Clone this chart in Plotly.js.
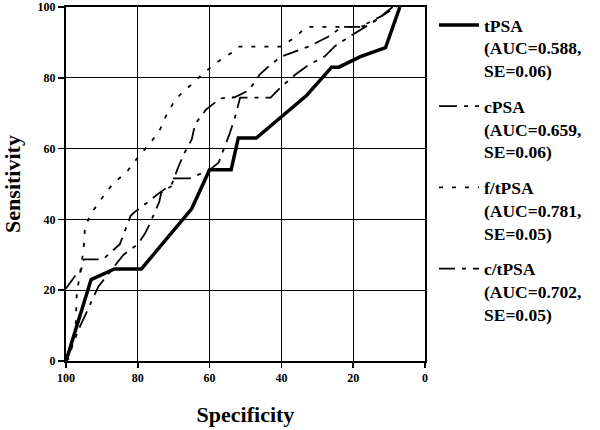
<!DOCTYPE html>
<html>
<head>
<meta charset="utf-8">
<script src="https://cdn.plot.ly/plotly-3.0.1.min.js"></script>
<style>html,body{margin:0;padding:0;background:#fff;}#chart{width:600px;height:430px;}</style>
</head>
<body>
<div id="chart"></div>
<script>
// Specificity (x) and Sensitivity (y)
const tpsaSpec = [100, 93, 86.5, 79, 65, 60, 54, 52, 47, 40, 33, 26, 24, 18, 11, 7];
const tpsaSens = [0, 23, 26, 26, 43, 54, 54, 63, 63, 69, 75, 83, 83, 86, 88.5, 100];

const cpsaSpec = [100, 96, 91, 87, 84, 82, 80, 78, 77, 74, 73.5, 70.5, 70, 65.5, 60, 57.5, 56, 54.5, 53, 52, 51.5, 43, 40, 36, 32.5, 28, 25, 20.5, 14, 9];
const cpsaSens = [0, 10, 21, 26, 30, 31.5, 33, 36, 38, 45, 47.5, 49.5, 51.6, 51.6, 54, 56, 60, 64, 68.6, 72.4, 74.4, 74.4, 77.5, 81, 83.6, 86, 89, 92, 96, 100];

const ftpsaSpec = [100, 98.9, 97.3, 97, 95.6, 95, 94.7, 92.8, 90, 87, 83, 80, 77, 74, 72, 69.5, 62, 58.5, 54, 52, 43, 40, 36, 33, 18, 16, 12.5, 9];
const ftpsaSens = [0, 1, 10, 19, 28, 33, 38, 42, 46, 50, 53.5, 57.5, 61, 65, 69.5, 74, 81, 84, 87, 88.8, 88.8, 88.8, 91.6, 94.4, 94.4, 95, 97, 100];

const ctpsaSpec = [100, 97.5, 96, 95, 89.7, 85, 82, 81, 77.7, 74, 70.5, 68.8, 67, 65, 64, 61, 57, 53, 49, 46, 42.7, 40, 32, 27, 23, 18, 12, 8];
const ctpsaSens = [20.5, 24, 25, 28.7, 28.7, 33, 41, 42, 44.5, 47.5, 50, 54.6, 58.8, 62.5, 67, 71, 74.2, 74.5, 76.5, 81, 84, 86, 89, 91.6, 94.4, 94.4, 97.5, 100];

const seriesNames = [
  "tPSA<br>(AUC=0.588,<br>SE=0.06)",
  "cPSA<br>(AUC=0.659,<br>SE=0.06)",
  "f/tPSA<br>(AUC=0.781,<br>SE=0.05)",
  "c/tPSA<br>(AUC=0.702,<br>SE=0.05)"
];
const xTicks = [100, 80, 60, 40, 20, 0];
const yTicks = [0, 20, 40, 60, 80, 100];

const FONT = "'Liberation Serif', 'Times New Roman', serif";

const traces = [
  {x: tpsaSpec, y: tpsaSens, name: seriesNames[0], legendgroup: "a",
   mode: "lines", line: {color: "#000", width: 3.5, dash: "solid"}},
  {x: cpsaSpec, y: cpsaSens, name: seriesNames[1], legendgroup: "b",
   mode: "lines", line: {color: "#000", width: 1.8, dash: "18px,7px,4px,7px"}},
  {x: ftpsaSpec, y: ftpsaSens, name: seriesNames[2], legendgroup: "c",
   mode: "lines", line: {color: "#000", width: 1.8, dash: "4px,9px"}},
  {x: ctpsaSpec, y: ctpsaSens, name: seriesNames[3], legendgroup: "d",
   mode: "lines", line: {color: "#000", width: 1.8, dash: "16px,7px,4px,7px"}}
];

const layout = {
  width: 600, height: 430,
  margin: {l: 66, r: 175, t: 7, b: 69},
  paper_bgcolor: "#fff", plot_bgcolor: "#fff",
  font: {family: FONT, color: "#000"},
  showlegend: true,
  legend: {
    x: 1.025, xanchor: "left", y: 1.0, yanchor: "top",
    font: {family: FONT, size: 17.5, color: "#000", weight: "bold"},
    tracegroupgap: 10, valign: "top", itemwidth: 40, maxheight: 420,
    bgcolor: "rgba(0,0,0,0)"
  },
  xaxis: {
    range: [100, 0], tickvals: xTicks, ticktext: xTicks.map(String),
    showgrid: true, gridcolor: "#000", gridwidth: 1,
    showline: true, linecolor: "#000", linewidth: 2, mirror: true,
    ticks: "outside", ticklen: 5, tickwidth: 1.5, tickcolor: "#000",
    zeroline: false, ticklabeloverflow: "allow",
    tickfont: {family: FONT, size: 12, color: "#000", weight: "bold"},
    title: {text: "Specificity", font: {family: FONT, size: 22, color: "#000", weight: "bold"}, standoff: 22}
  },
  yaxis: {
    range: [0, 100], tickvals: yTicks, ticktext: yTicks.map(String),
    showgrid: true, gridcolor: "#000", gridwidth: 1,
    showline: true, linecolor: "#000", linewidth: 2, mirror: true,
    ticks: "outside", ticklen: 6, tickwidth: 1.5, tickcolor: "#000",
    zeroline: false, ticklabeloverflow: "allow",
    tickfont: {family: FONT, size: 12, color: "#000", weight: "bold"},
    title: {text: "Sensitivity", font: {family: FONT, size: 22, color: "#000", weight: "bold"}, standoff: 12}
  }
};

Plotly.newPlot("chart", traces, layout, {displayModeBar: false, staticPlot: true});
</script>
</body>
</html>
